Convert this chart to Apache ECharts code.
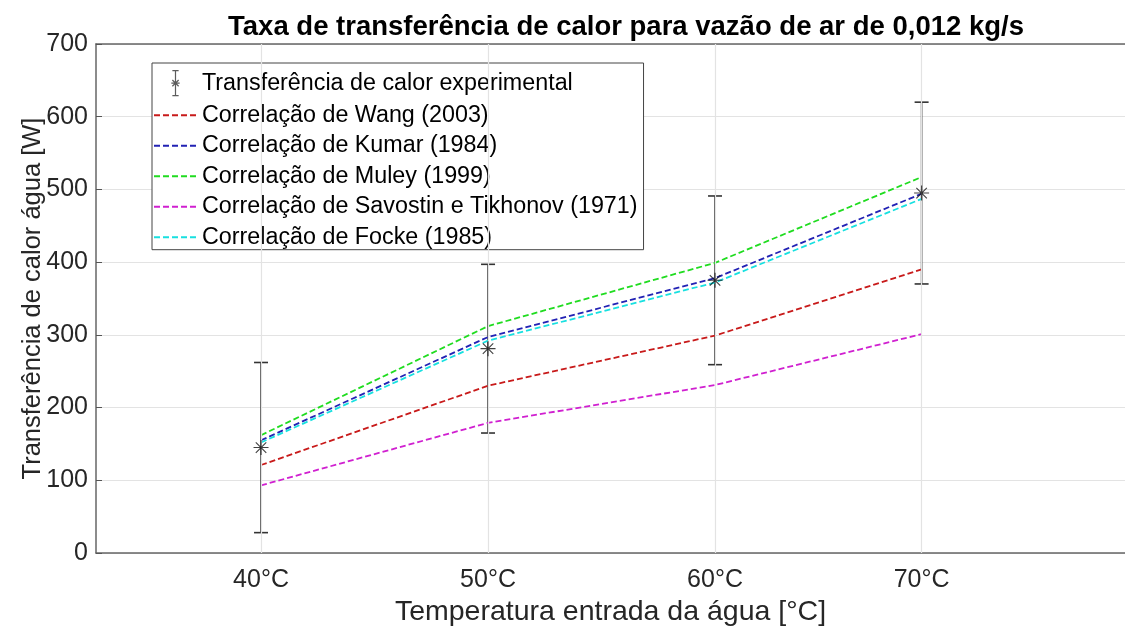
<!DOCTYPE html>
<html>
<head>
<meta charset="utf-8">
<script src="https://cdn.jsdelivr.net/npm/echarts@6/dist/echarts.min.js"></script>
<style>html,body{margin:0;padding:0;background:#fff;}#c{width:1125px;height:632px;}</style>
</head>
<body>
<div id="c"></div>
<script>
// ---- data ----
const tempX = [40, 50, 60, 69.1];
const tickLabels = ['40°C', '50°C', '60°C', '70°C'];
const expValue = [145, 281, 375, 495];
const expErr = [117, 116, 116, 125];
const wang = [121, 230, 299, 390];
const kumar = [155, 297, 378, 494];
const muley = [162, 312, 399, 517];
const savostin = [93, 179, 231, 301];
const focke = [152, 292, 372, 487];
const yTicks = [0, 100, 200, 300, 400, 500, 600, 700];

const FONT = 'Liberation Sans, Arial, Helvetica, sans-serif';
const pair = arr => tempX.map((x, i) => [x, arr[i]]);
const X_MIN = 32.73, X_MAX = 78.06;

const lineSeries = (name, arr, color) => ({
  name, type: 'line', data: pair(arr), symbol: 'none', z: 3,
  lineStyle: { color, width: 1.8, type: [6, 3] },
  itemStyle: { color },
  emphasis: { disabled: true }, animation: false
});

const starPath = 'path://M0,5L10,5M5,0L5,10M1.5,1.5L8.5,8.5M1.5,8.5L8.5,1.5';
const legendExpIcon = 'path://M1,0L7,0M4,0L4,24M1,24L7,24M0,12L8,12M1,9L7,15M1,15L7,9';
const lineNames = [
  'Correlação de Wang (2003)',
  'Correlação de Kumar (1984)',
  'Correlação de Muley (1999)',
  'Correlação de Savostin e Tikhonov (1971)',
  'Correlação de Focke (1985)'
];

const chart = echarts.init(document.getElementById('c'), null, { renderer: 'canvas' });
chart.setOption({
  animation: false,
  backgroundColor: '#fff',
  title: {
    text: 'Taxa de transferência de calor para vazão de ar de 0,012 kg/s',
    left: 621, top: 8, textAlign: 'center',
    textStyle: { fontFamily: FONT, fontSize: 27.5, fontWeight: 'bold', color: '#000' }
  },
  grid: { left: 96, top: 44, right: 0, bottom: 78, show: false },
  legend: {
    orient: 'vertical', left: 152, top: 63,
    padding: [7, 6, 1, 1],
    itemWidth: 43, itemHeight: 25, itemGap: 7.5,
    backgroundColor: '#fff', borderColor: '#444', borderWidth: 1,
    textStyle: { fontFamily: FONT, fontSize: 23.3, color: '#000' },
    selectedMode: false,
    data: [
      { name: 'Transferência de calor experimental', icon: legendExpIcon,
        itemStyle: { color: 'transparent', borderColor: '#333', borderWidth: 1.2 } }
    ].concat(lineNames.map(n => ({ name: n, itemStyle: { opacity: 0 } })))
  },
  xAxis: [{
    type: 'value', min: X_MIN, max: X_MAX,
    name: 'Temperatura entrada da água [°C]', nameLocation: 'middle', nameGap: 45,
    nameTextStyle: { fontFamily: FONT, fontSize: 28.5, color: '#262626' },
    axisLine: { show: true, lineStyle: { color: '#666', width: 1.5 } },
    axisTick: { show: true, inside: true, length: 6, customValues: tempX, lineStyle: { color: '#555', width: 1 } },
    axisLabel: {
      customValues: tempX, margin: 15,
      fontFamily: FONT, fontSize: 25, color: '#262626',
      formatter: v => tickLabels[tempX.indexOf(v)] || ''
    },
    splitLine: { show: false }
  }, {
    type: 'value', min: X_MIN, max: X_MAX, position: 'top',
    axisLine: { show: true, onZero: false, lineStyle: { color: '#666', width: 1.5 } },
    axisTick: { show: false }, axisLabel: { show: false }, splitLine: { show: false }
  }],
  yAxis: {
    type: 'value', min: 0, max: 700, interval: 100,
    name: 'Transferência de calor água [W]', nameLocation: 'middle', nameGap: 50,
    nameMoveOverlap: false,
    nameTextStyle: { fontFamily: FONT, fontSize: 25.5, color: '#262626' },
    axisLine: { show: true, lineStyle: { color: '#666', width: 1.5 } },
    axisTick: { show: true, inside: true, length: 6, lineStyle: { color: '#555', width: 1 } },
    axisLabel: {
      margin: 8, fontFamily: FONT, fontSize: 25, color: '#262626',
      formatter: v => (yTicks.indexOf(v) >= 0 ? String(v) : '')
    },
    splitLine: { show: true, lineStyle: { color: '#e3e3e3', width: 1.2 } }
  },
  series: [
    {
      name: 'grid-x', type: 'line', data: [], z: 1, silent: true,
      markLine: {
        silent: true, symbol: 'none', label: { show: false }, animation: false,
        lineStyle: { color: '#e3e3e3', width: 1.2, type: 'solid' },
        data: tempX.map(x => ({ xAxis: x }))
      }
    },
    {
      name: 'errbar', type: 'custom', z: 2, silent: true,
      data: tempX.map((x, i) => [x, expValue[i] - expErr[i], expValue[i] + expErr[i]]),
      renderItem: (params, api) => {
        const x = api.value(0);
        const lo = api.coord([x, api.value(1)]);
        const hi = api.coord([x, api.value(2)]);
        const cw = 7;
        const st = { stroke: '#333', lineWidth: 1.6 };
        return {
          type: 'group',
          children: [
            { type: 'line', shape: { x1: lo[0], y1: lo[1], x2: hi[0], y2: hi[1] }, style: st },
            { type: 'line', shape: { x1: lo[0] - cw, y1: lo[1], x2: lo[0] + cw, y2: lo[1] }, style: st },
            { type: 'line', shape: { x1: hi[0] - cw, y1: hi[1], x2: hi[0] + cw, y2: hi[1] }, style: st }
          ]
        };
      }
    },
    lineSeries(lineNames[0], wang, '#c81a1a'),
    lineSeries(lineNames[1], kumar, '#2222b4'),
    lineSeries(lineNames[2], muley, '#20dc20'),
    lineSeries(lineNames[3], savostin, '#d020d0'),
    lineSeries(lineNames[4], focke, '#18e0e0'),
    {
      name: 'Transferência de calor experimental', type: 'scatter', z: 5,
      data: pair(expValue), symbol: starPath, symbolSize: 15,
      itemStyle: { color: 'transparent', borderColor: '#111', borderWidth: 1.1 },
      emphasis: { disabled: true }
    }
  ]
});
</script>
</body>
</html>
